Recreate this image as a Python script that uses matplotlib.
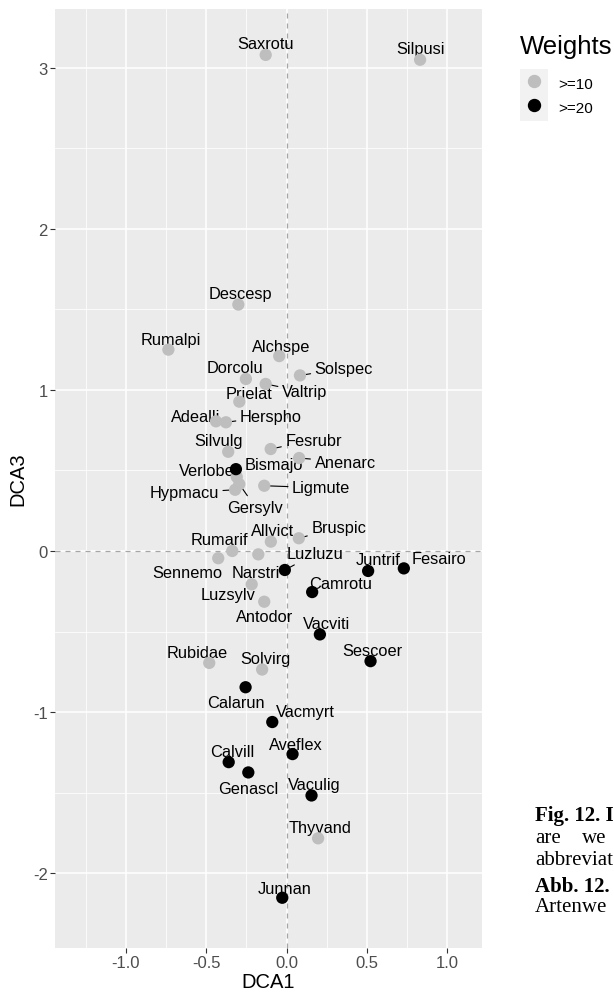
import matplotlib
matplotlib.use('Agg')
import matplotlib.pyplot as plt
from matplotlib.lines import Line2D
from matplotlib.patches import Rectangle
from matplotlib.legend_handler import HandlerLine2D

plt.rcParams['font.family'] = ['Liberation Sans', 'DejaVu Sans']

# species scores on DCA axes 1 and 3
species = ['Saxrotu', 'Silpusi', 'Descesp', 'Rumalpi', 'Alchspe', 'Solspec',
           'Dorcolu', 'Valtrip', 'Prielat', 'Adealli', 'Herspho', 'Silvulg',
           'Fesrubr', 'Anenarc', 'Verlobe', 'Bismajo', 'Ligmute', 'Hypmacu',
           'Gersylv', 'Allvict', 'Bruspic', 'Rumarif', 'Sennemo', 'Narstri',
           'Luzluzu', 'Juntrif', 'Fesairo', 'Camrotu', 'Luzsylv', 'Antodor',
           'Vacviti', 'Sescoer', 'Rubidae', 'Solvirg', 'Calarun', 'Vacmyrt',
           'Aveflex', 'Calvill', 'Genascl', 'Vaculig', 'Thyvand', 'Junnan']
dca1 = [-0.13, 0.83, -0.30, -0.735, -0.046, 0.083,
        -0.253, -0.13, -0.294, -0.439, -0.377, -0.363,
        -0.099, 0.078, -0.315, -0.31, -0.139, -0.32,
        -0.294, -0.098, 0.076, -0.338, -0.425, -0.176,
        -0.011, 0.507, 0.729, 0.159, -0.217, -0.139,
        0.207, 0.522, -0.481, -0.152, -0.255, -0.089,
        0.037, -0.36, -0.238, 0.155, 0.196, -0.027]
dca3 = [3.08, 3.05, 1.53, 1.25, 1.21, 1.09,
        1.068, 1.037, 0.927, 0.805, 0.799, 0.616,
        0.633, 0.577, 0.508, 0.46, 0.405, 0.38,
        0.415, 0.058, 0.079, 0.0, -0.045, -0.021,
        -0.118, -0.124, -0.108, -0.255, -0.207, -0.315,
        -0.518, -0.684, -0.695, -0.736, -0.846, -1.062,
        -1.261, -1.311, -1.375, -1.518, -1.784, -2.153]
weights = ['>=10', '>=10', '>=10', '>=10', '>=10', '>=10',
           '>=10', '>=10', '>=10', '>=10', '>=10', '>=10',
           '>=10', '>=10', '>=20', '>=10', '>=10', '>=10',
           '>=10', '>=10', '>=10', '>=10', '>=10', '>=10',
           '>=20', '>=20', '>=20', '>=20', '>=10', '>=10',
           '>=20', '>=20', '>=10', '>=10', '>=20', '>=20',
           '>=20', '>=20', '>=20', '>=20', '>=10', '>=20']
weight_levels = ['>=10', '>=20']
weight_colors = {'>=10': '#BEBEBE', '>=20': '#000000'}

# repelled label placement (pixel offsets from the point, y downwards)
label_offsets = {
    'Saxrotu': (0, -11), 'Silpusi': (0, -11), 'Descesp': (2, -11),
    'Rumalpi': (2, -10), 'Alchspe': (2, -10), 'Solspec': (44, -7),
    'Dorcolu': (-11, -11), 'Valtrip': (39, 8), 'Prielat': (10, -8),
    'Adealli': (-20, -5), 'Herspho': (45, -6), 'Silvulg': (-10, -11),
    'Fesrubr': (43, -9), 'Anenarc': (46, 4), 'Verlobe': (-29, 1),
    'Bismajo': (37, -12), 'Ligmute': (57, 2), 'Hypmacu': (-51, 3),
    'Gersylv': (16, 23), 'Allvict': (2, -11), 'Bruspic': (40, -11),
    'Rumarif': (-13, -11), 'Sennemo': (-31, 14), 'Narstri': (-2, 18),
    'Luzluzu': (30, -16), 'Juntrif': (10, -11), 'Fesairo': (35, -10),
    'Camrotu': (28, -9), 'Luzsylv': (-24, 10), 'Antodor': (0, 15),
    'Vacviti': (7, -11), 'Sescoer': (2, -11), 'Rubidae': (-12, -10),
    'Solvirg': (3, -11), 'Calarun': (-10, 15), 'Vacmyrt': (33, -11),
    'Aveflex': (3, -10), 'Calvill': (4, -11), 'Genascl': (0, 16),
    'Vaculig': (3, -11), 'Thyvand': (2, -11), 'Junnan': (2, -9),
}
with_segment = ['Solspec', 'Valtrip', 'Herspho', 'Fesrubr', 'Anenarc',
                'Ligmute', 'Hypmacu', 'Gersylv', 'Bruspic', 'Luzluzu']


class KeyHandler(HandlerLine2D):
    # ggplot-like grey key square behind the marker
    def create_artists(self, legend, orig_handle, xdescent, ydescent,
                       width, height, fontsize, trans):
        arts = super().create_artists(legend, orig_handle, xdescent, ydescent,
                                      width, height, fontsize, trans)
        e = (width - height) / 2
        bg = Rectangle((-xdescent, -ydescent - e), width, width,
                       facecolor='#F2F2F2', edgecolor='none', transform=trans)
        return [bg] + list(arts)


W, H = 614, 995
fig = plt.figure(figsize=(W / 100, H / 100), dpi=100)
ax = fig.add_axes([55 / W, 46 / H, 427 / W, 939 / H])
ax.set_facecolor('#EBEBEB')
for s in ax.spines.values():
    s.set_visible(False)

ax.set_xlim(-1.44, 1.215)
ax.set_ylim(-2.465, 3.365)
ax.set_xticks([-1, -0.5, 0, 0.5, 1])
ax.set_xticklabels(['-1.0', '-0.5', '0.0', '0.5', '1.0'])
ax.set_xticks([-1.25, -0.75, -0.25, 0.25, 0.75], minor=True)
ax.set_yticks([-2, -1, 0, 1, 2, 3])
ax.set_yticklabels(['-2', '-1', '0', '1', '2', '3'])
ax.set_yticks([-1.5, -0.5, 0.5, 1.5, 2.5], minor=True)
ax.grid(which='major', color='white', lw=1.1)
ax.grid(which='minor', color='white', lw=0.55)
ax.set_axisbelow(True)
ax.tick_params(which='major', length=3.3, width=0.8, color='#333333',
               labelcolor='#4D4D4D', labelsize=12, pad=2)
ax.tick_params(which='minor', length=0)

ax.axhline(0, color='#A6A6A6', ls=(0, (4, 4)), lw=0.9, zorder=1)
ax.axvline(0, color='#A6A6A6', ls=(0, (4, 4)), lw=0.9, zorder=1)

for name, x, y in zip(species, dca1, dca3):
    dx, dy = label_offsets[name]
    arrow = None
    if name in with_segment:
        arrow = dict(arrowstyle='-', lw=0.8, color='black', shrinkA=1, shrinkB=4)
    ax.annotate(name, xy=(x, y), xytext=(dx, -dy), textcoords='offset pixels',
                ha='center', va='center', fontsize=11.8, color='black',
                arrowprops=arrow, zorder=3)

for lev in weight_levels:
    xs = [x for x, w in zip(dca1, weights) if w == lev]
    ys = [y for y, w in zip(dca3, weights) if w == lev]
    ax.scatter(xs, ys, s=78, color=weight_colors[lev], edgecolors='none', zorder=4)

ax.set_xlabel('DCA1', fontsize=14.5, labelpad=1)
ax.set_ylabel('DCA3', fontsize=14.5, labelpad=4)

# legend
fig.text(520 / W, 1 - 47 / H, 'Weights', fontsize=18.5, va='center', ha='left')
handles = [Line2D([], [], marker='o', linestyle='', markersize=8.6,
                  color=weight_colors[lev]) for lev in weight_levels]
fig.legend(handles, weight_levels, loc='upper left',
           bbox_to_anchor=(520 / W, 1 - 75 / H), bbox_transform=fig.transFigure,
           frameon=False, fontsize=11, handlelength=1.83, handleheight=1.45,
           handletextpad=0.65, labelspacing=0.38, borderpad=0, borderaxespad=0,
           handler_map={Line2D: KeyHandler()})

# cropped caption column of the source page
serif = ['Liberation Serif', 'DejaVu Serif']
fig.text(535 / W, 1 - 816 / H, 'Fig. 12. I', family=serif, fontweight='bold',
         fontsize=15, va='center')
fig.text(535 / W, 1 - 839 / H, 'are', family=serif, fontsize=15, va='center')
fig.text(582 / W, 1 - 839 / H, 'we', family=serif, fontsize=15, va='center')
fig.text(535 / W, 1 - 861 / H, 'abbreviat', family=serif, fontsize=15, va='center')
fig.text(535 / W, 1 - 887 / H, 'Abb. 12.', family=serif, fontweight='bold',
         fontsize=15, va='center')
fig.text(535 / W, 1 - 908 / H, 'Artenwe', family=serif, fontsize=15, va='center')

fig.savefig('out.png', dpi=100)
